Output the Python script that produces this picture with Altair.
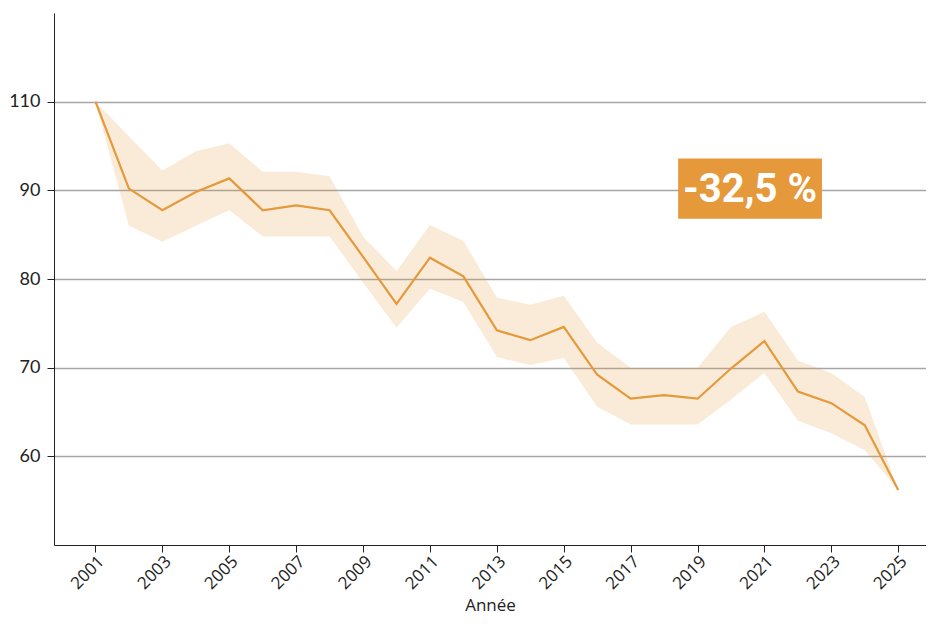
import altair as alt
import pandas as pd

years = list(range(2001, 2026))
value = [100, 90.2, 87.75, 89.8, 91.35, 87.75, 88.3, 87.75, 82.5, 77.2,
         82.4, 80.3, 74.2, 73.1, 74.6, 69.2, 66.5, 66.9, 66.5, 69.9,
         73.0, 67.3, 66.0, 63.5, 56.2]
upper = [100, 96.1, 92.25, 94.4, 95.3, 92.1, 92.1, 91.6, 84.8, 80.9,
         86.1, 84.3, 77.9, 77.1, 78.1, 72.8, 70.0, 70.0, 70.0, 74.6,
         76.3, 70.8, 69.4, 66.7, 56.2]
lower = [100, 86.0, 84.2, 86.0, 87.75, 84.8, 84.8, 84.8, 79.6, 74.5,
         78.9, 77.4, 71.2, 70.3, 71.1, 65.6, 63.6, 63.6, 63.6, 66.4,
         69.4, 64.0, 62.6, 60.7, 56.2]

x_ticks = list(range(2001, 2026, 2))
y_ticks = [60, 70, 80, 90, 100]

ann_text = ["-32,5 %"]
ann_x = [2018.42]
ann_x2 = [2022.72]
ann_y = [93.6]
ann_y2 = [86.8]
ann_xc = [2020.57]
ann_yc = [90.0]

df = pd.DataFrame({"year": years, "value": value, "upper": upper, "lower": lower})
ann = pd.DataFrame({"t": ann_text, "x": ann_x, "x2": ann_x2, "y": ann_y, "y2": ann_y2,
                    "xc": ann_xc, "yc": ann_yc})

ORANGE = "#E5993A"

xscale = alt.Scale(domain=[1999.76, 2025.83], nice=False, zero=False)
yscale = alt.Scale(domain=[50, 110], nice=False, zero=False)

label_expr = "datum.value == 100 ? '110' : datum.label"

x_axis = alt.Axis(values=x_ticks, format="d", labelAngle=-45, grid=False,
                  title="Année", titleFont="Open Sans", titleFontWeight="normal",
                  titleFontSize=17, titleColor="#222", titlePadding=6,
                  labelFont="Open Sans", labelFontSize=17, labelColor="#222",
                  domainColor="#222", tickColor="#222", tickSize=7, labelPadding=1)
y_axis = alt.Axis(values=y_ticks, labelExpr=label_expr, grid=True, gridColor="#a6a6a6",
                  gridWidth=1.3, title=None, labelFont="Lato", labelFontSize=18,
                  labelColor="#222", domainColor="#222", tickColor="#222", tickSize=7,
                  labelPadding=7)

band = alt.Chart(df).mark_area(color=ORANGE, opacity=0.2).encode(
    x=alt.X("year:Q", scale=xscale, axis=x_axis),
    y=alt.Y("upper:Q", scale=yscale, axis=y_axis),
    y2="lower:Q",
)

line = alt.Chart(df).mark_line(color=ORANGE, strokeWidth=2.2).encode(
    x=alt.X("year:Q", scale=xscale),
    y=alt.Y("value:Q", scale=yscale),
)

box = alt.Chart(ann).mark_rect(color=ORANGE, opacity=1).encode(
    x=alt.X("x:Q", scale=xscale), x2="x2:Q",
    y=alt.Y("y:Q", scale=yscale), y2="y2:Q",
)

txt = alt.Chart(ann).mark_text(color="white", font="Roboto",
                               fontWeight="bold", fontSize=40, align="center",
                               baseline="middle").encode(
    x=alt.X("xc:Q", scale=xscale),
    y=alt.Y("yc:Q", scale=yscale),
    text="t:N",
)

chart = alt.layer(band, line, box, txt).properties(
    width=918, height=606,
    padding={"left": 0, "top": 5, "right": 0, "bottom": 0},
    autosize=alt.AutoSizeParams(type="fit", contains="padding"),
).configure_view(stroke=None)

chart.save("out.html", embed_options={"renderer": "svg", "actions": False})
